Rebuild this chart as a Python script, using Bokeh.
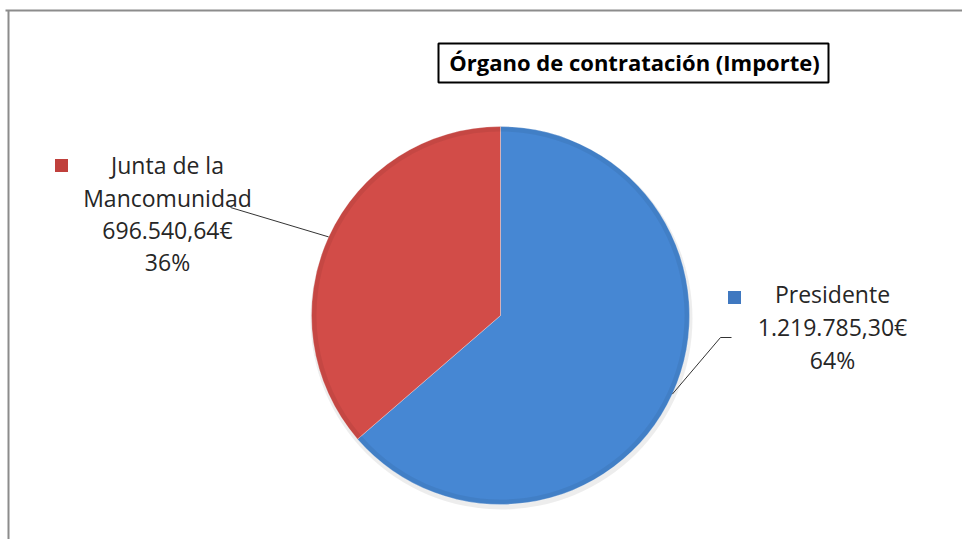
import math
from bokeh.plotting import figure
from bokeh.models import Range1d, ColumnDataSource
from bokeh.core.properties import value
from bokeh.embed import file_html
from bokeh.resources import INLINE

# ---- data ----
categories = ["Presidente", "Junta de la Mancomunidad"]
amounts = [1219785.30, 696540.64]
amount_labels = ["1.219.785,30€", "696.540,64€"]
colors = ["#4687D3", "#D24C48"]
legend_colors = ["#3F78C0", "#C0403C"]
title_text = "Órgano de contratación (Importe)"

W, H = 962, 539
TXT_SHIFT = 11  # renderer places alphabetic baseline slightly lower


def sy(y):
    return H - y  # picture y -> data y


def ty(y):
    return H - (y - TXT_SHIFT)


p = figure(width=W, height=H, output_backend="svg", toolbar_location=None,
           x_range=Range1d(0, W), y_range=Range1d(0, H),
           x_axis_location=None, y_axis_location=None, min_border=0)
p.grid.visible = False
p.outline_line_color = None
p.background_fill_color = "white"

FONT = value("Open Sans")

# chart frame (top and left edges visible)
p.line(x=[5, W], y=[sy(10), sy(10)], line_color="#8c8c8c", line_width=2)
p.line(x=[8, 8], y=[sy(10), sy(H)], line_color="#8c8c8c", line_width=2)

# pie geometry
cx, cy, r = 500, sy(315), 189
total = sum(amounts)
fracs = [a / total for a in amounts]
red_start = math.pi / 2
red_end = red_start + 2 * math.pi * fracs[1]
blue_start = red_end
blue_end = math.pi / 2 + 2 * math.pi

# soft shadow
p.circle(x=[cx + 1], y=[cy - 3], radius=r + 2, fill_color="#000000", fill_alpha=0.07, line_color=None)

src = ColumnDataSource(dict(
    x=[cx, cx], y=[cy, cy],
    start=[blue_start, red_start], end=[blue_end, red_end],
    color=colors,
))
p.wedge(x="x", y="y", radius=r, start_angle="start", end_angle="end",
        direction="anticlock", fill_color="color", line_color="#ffffff", line_alpha=0.3,
        line_width=1, source=src)
# bevel rim
p.annular_wedge(x="x", y="y", inner_radius=r - 5, outer_radius=r, start_angle="start", end_angle="end",
                direction="anticlock", fill_color="#000000", fill_alpha=0.06, line_color=None, source=src)

# leader lines at mid-angles
mid_red = (red_start + red_end) / 2
mid_blue = (blue_start + blue_end) / 2
p.line(x=[230, cx + r * math.cos(mid_red)], y=[sy(207), cy + r * math.sin(mid_red)],
       line_color="#333333", line_width=1)
p.line(x=[731, 720, cx + r * math.cos(mid_blue)], y=[sy(337), sy(337), cy + r * math.sin(mid_blue)],
       line_color="#333333", line_width=1)

# labels
pct = [f"{round(f * 100)}%" for f in fracs]
lab_pres = [categories[0], amount_labels[0], pct[0]]
lab_junta = ["Junta de la", "Mancomunidad", amount_labels[1], pct[1]]
p.text(x=[832] * 3, y=[ty(b) for b in (304, 337, 370)], text=lab_pres,
       text_font=FONT, text_font_size="23px", text_color="#262626",
       text_align="center", text_baseline="alphabetic")
p.text(x=[167] * 4, y=[ty(b) for b in (175, 208, 240, 272)], text=lab_junta,
       text_font=FONT, text_font_size="23px", text_color="#262626",
       text_align="center", text_baseline="alphabetic")

# legend keys
p.rect(x=[734, 61], y=[sy(297), sy(165)], width=13, height=13,
       fill_color=legend_colors, line_color=None)

# title box
p.quad(left=[438], right=[828], top=[sy(43)], bottom=[sy(82)], fill_color="white",
       line_color="black", line_width=2)
p.text(x=[634], y=[ty(72)], text=[title_text], text_font=FONT, text_font_size="22px",
       text_font_style="bold", text_color="black", text_align="center", text_baseline="alphabetic")

open("out.html", "w").write(file_html(p, INLINE))
